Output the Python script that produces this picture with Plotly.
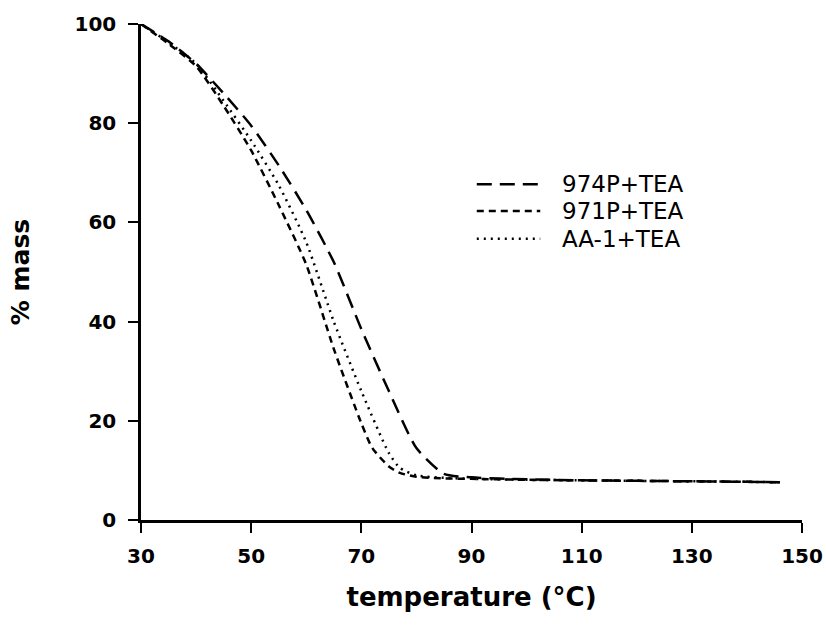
import plotly.graph_objects as go

# Data
temperature = [30, 35, 40, 45, 50, 55, 60, 65, 70, 75, 80, 85, 90, 100, 110, 120, 130, 140, 146]
mass_974P = [100, 96.5, 92, 86, 79.5, 71.5, 62.5, 52, 38.5, 26, 14.5, 9.3, 8.6, 8.2, 8.0, 7.9, 7.8, 7.7, 7.6]

temperature_971 = [30, 35, 40, 45, 50, 55, 60, 65, 70, 72, 75, 77, 80, 85, 90, 100, 110, 120, 130, 140, 146]
mass_971P = [100, 96, 91.5, 83.5, 74.5, 63.5, 51.5, 34.5, 19.5, 14.5, 10.8, 9.5, 8.7, 8.4, 8.3, 8.1, 8.0, 7.9, 7.8, 7.7, 7.6]

temperature_aa = [30, 35, 40, 45, 50, 55, 60, 65, 70, 75, 77, 80, 85, 90, 100, 110, 120, 130, 140, 146]
mass_AA1 = [100, 96.3, 92, 84.5, 76.5, 67.5, 56, 40, 26, 13.5, 10.5, 9.0, 8.5, 8.3, 8.1, 8.0, 7.9, 7.8, 7.7, 7.6]

series_names = ["974P+TEA", "971P+TEA", "AA-1+TEA"]
x_ticks = [30, 50, 70, 90, 110, 130, 150]
y_ticks = [0, 20, 40, 60, 80, 100]

dashes = ["15px,8px", "7px,5px", "2px,5px"]
FONT = "DejaVu Sans"

fig = go.Figure()
for xs, ys, name, d in zip([temperature, temperature_971, temperature_aa],
                           [mass_974P, mass_971P, mass_AA1], series_names, dashes):
    fig.add_trace(go.Scatter(x=xs, y=ys, mode="lines", name=name,
                             line=dict(color="black", width=2.5, dash=d, shape="spline", smoothing=0.6),
                             showlegend=False))

# Manual legend (layout decoration)
leg_rows = [0.677, 0.623, 0.567]
shapes = []
annotations = []
for name, d, yy in zip(series_names, dashes, leg_rows):
    shapes.append(dict(type="line", xref="paper", yref="paper", x0=0.508, x1=0.604, y0=yy, y1=yy,
                       line=dict(color="black", width=2.5, dash=d)))
    annotations.append(dict(xref="paper", yref="paper", x=0.634, y=yy, text=name, showarrow=False,
                            xanchor="left", yanchor="middle",
                            font=dict(family=FONT, size=23, color="black")))

fig.update_layout(
    width=826, height=630,
    margin=dict(l=141, r=24, t=24, b=110),
    paper_bgcolor="white", plot_bgcolor="white",
    shapes=shapes, annotations=annotations,
    font=dict(family=FONT, color="black"),
    xaxis=dict(range=[30, 150], tickvals=x_ticks, ticktext=[str(v) for v in x_ticks],
               showgrid=False, zeroline=False, showline=True, linecolor="black", linewidth=2.5,
               ticks="outside", ticklen=10, tickwidth=2, tickcolor="black",
               tickfont=dict(family=FONT, size=20, color="black", weight="bold"), ticklabelstandoff=6,
               ticklabeloverflow="allow",
               title=dict(text="<b>temperature (°C)</b>", font=dict(family=FONT, size=26, color="black"),
                          standoff=22),
               automargin=False),
    yaxis=dict(range=[0, 100], tickvals=y_ticks, ticktext=[str(v) for v in y_ticks],
               showgrid=False, zeroline=False, showline=True, linecolor="black", linewidth=2.5,
               ticks="outside", ticklen=10, tickwidth=2, tickcolor="black",
               tickfont=dict(family=FONT, size=20, color="black", weight="bold"), ticklabelstandoff=8,
               ticklabeloverflow="allow",
               title=dict(text="<b>% mass</b>", font=dict(family=FONT, size=25, color="black"),
                          standoff=38),
               automargin=False),
)

fig.write_html("out.html", config={"displayModeBar": False},
               post_script="document.body.style.margin='0';document.body.style.overflow='hidden';")
